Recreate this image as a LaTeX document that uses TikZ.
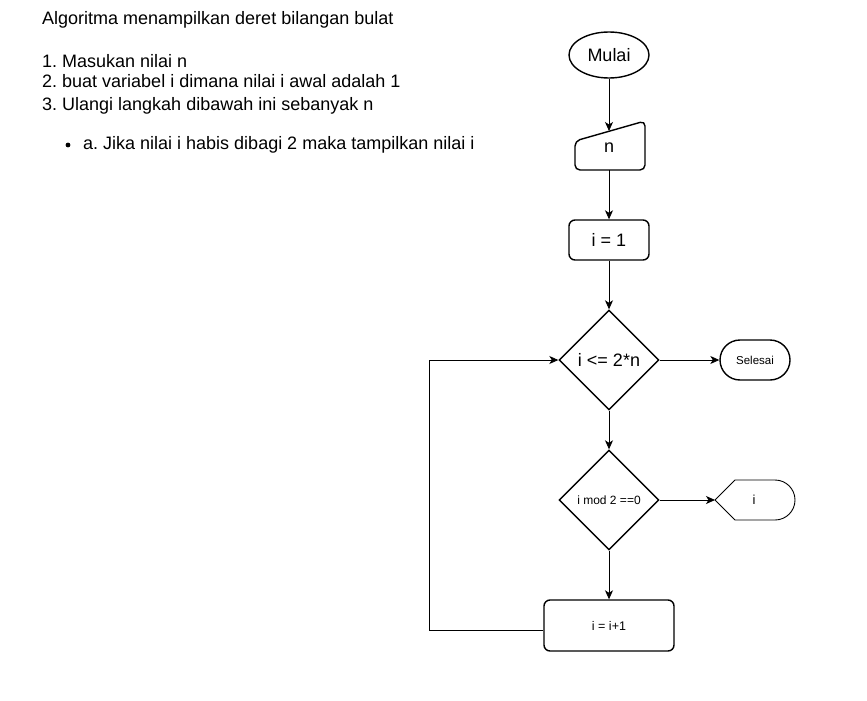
\documentclass[tikz,border=0pt]{standalone}
\usepackage{fontspec}
\setmainfont{Liberation Sans}
\usetikzlibrary{shapes.geometric,arrows.meta}
\frenchspacing
\begin{document}
\begin{tikzpicture}[x=1pt,y=-1pt,
  shp/.style={draw,line width=1.4pt,inner sep=0pt,font=\fontsize{18}{21}\selectfont},
  small/.style={font=\fontsize{11.5}{13}\selectfont},
  conn/.style={draw,line width=0.8pt,-{Stealth[length=9pt,width=8pt,inset=2.5pt]}},
  txt/.style={anchor=base west,inner sep=0pt,font=\fontsize{18}{21}\selectfont}]
\useasboundingbox (0,0) rectangle (867,701);
% left text
\node[txt] (t0) at (42,25) {Algoritma menampilkan deret bilangan bulat};
\node[txt] (t1) at (42,67) {1. Masukan nilai n};
\node[txt] (t2) at (42,88) {2. buat variabel i dimana nilai i awal adalah 1};
\node[txt] (t3) at (42,110) {3. Ulangi langkah dibawah ini sebanyak n};
\fill (68,145) circle (2.4);
\node[txt] (t4) at (83,149) {a. Jika nilai i habis dibagi 2 maka tampilkan nilai i};
% flowchart
\node[shp,ellipse,minimum width=80,minimum height=46] (start) at (609,55) {Mulai};
\draw[line width=1.4pt,rounded corners=5pt] (575,141) -- (645,121) -- (645,170) -- (575,170) -- cycle;
\node[inner sep=0pt,font=\fontsize{18}{21}\selectfont] (in) at (609,148) {n};
\coordinate (inTop) at (609,131);
\coordinate (inBot) at (609,170);
\node[shp,rectangle,rounded corners=6pt,minimum width=80,minimum height=40] (init) at (609,240) {i = 1};
\node[shp,diamond,minimum width=100,minimum height=100] (d1) at (609,360) {i <= 2*n};
\node[shp,rectangle,rounded corners=20pt,minimum width=70,minimum height=40,font=\fontsize{11.5}{13}\selectfont] (end) at (755,360) {Selesai};
\node[shp,diamond,minimum width=100,minimum height=100,font=\fontsize{12}{14}\selectfont] (d2) at (609,500) {i mod 2 ==0};
\draw[line width=0.9pt] (715,500) -- (735,480) -- (775,480) arc[start angle=90,end angle=-90,x radius=20,y radius=-20] -- (735,520) -- cycle;
\node[inner sep=0pt,font=\fontsize{13}{15}\selectfont] (disp) at (754,500) {i};
\coordinate (dispL) at (715,500);
\node[shp,rectangle,rounded corners=6pt,minimum width=130,minimum height=51,font=\fontsize{12.5}{14}\selectfont] (inc) at (609,625.5) {i = i+1};
% connectors
\draw[conn] (start.south) -- (inTop);
\draw[conn] (inBot) -- (init.north);
\draw[conn] (init.south) -- (d1.north);
\draw[conn] (d1.east) -- (end.west);
\draw[conn] (d1.south) -- (d2.north);
\draw[conn] (d2.east) -- (dispL);
\draw[conn] (d2.south) -- (inc.north);
\draw[conn] ([yshift=-4.5pt]inc.west) -- ++(-114,0) |- (d1.west);
\end{tikzpicture}
\end{document}
